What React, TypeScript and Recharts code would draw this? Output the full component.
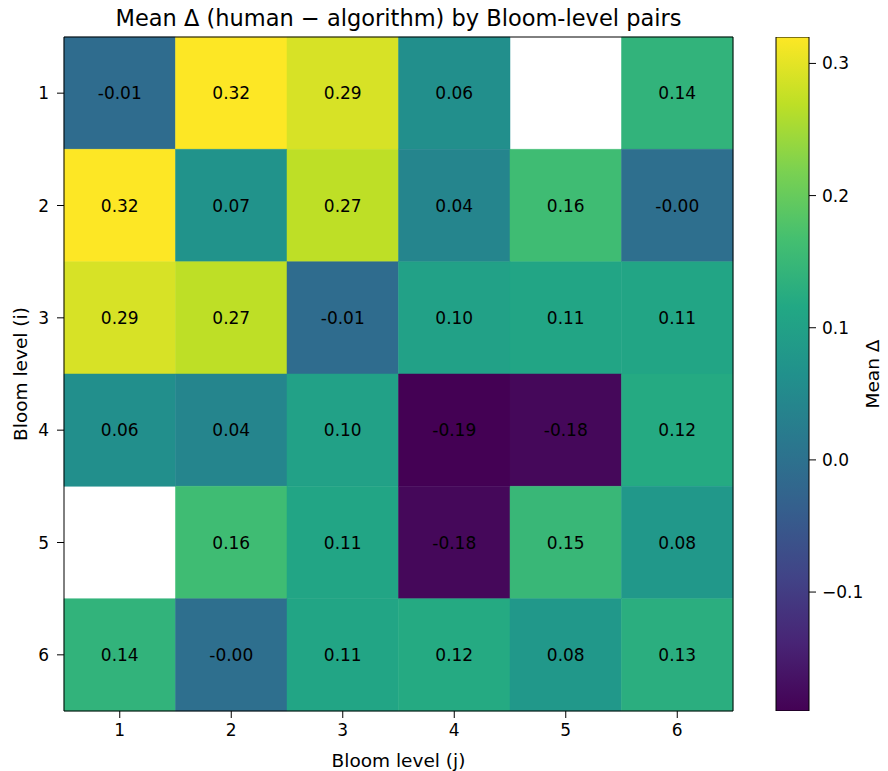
import React from "react";
import {
    ScatterChart,
    Scatter,
    XAxis,
    YAxis,
    ReferenceArea,
    BarChart,
    Bar,
} from "recharts";

// Bloom levels on both axes
const levels = [1, 2, 3, 4, 5, 6];

// mean delta per (i, j) pair, rows = level i, columns = level j (null = no data)
const row1 = [-0.01, 0.32, 0.29, 0.06, null, 0.14];
const row2 = [0.32, 0.07, 0.27, 0.04, 0.16, -0.004];
const row3 = [0.29, 0.27, -0.01, 0.1, 0.11, 0.11];
const row4 = [0.06, 0.04, 0.1, -0.19, -0.18, 0.12];
const row5 = [null, 0.16, 0.11, -0.18, 0.15, 0.08];
const row6 = [0.14, -0.004, 0.11, 0.12, 0.08, 0.13];
const meanDelta = [row1, row2, row3, row4, row5, row6];

const colorbarTicks = [-0.1, 0.0, 0.1, 0.2, 0.3];

// viridis colormap anchor colours
const VIRIDIS = [
    "#440154", "#482475", "#414487", "#355f8d", "#2a788e", "#21918c",
    "#22a884", "#44bf70", "#7ad151", "#bddf26", "#fde725",
];

const FONT = "'DejaVu Sans', sans-serif";

const allValues = meanDelta.flat().filter((v): v is number => v !== null);
const vmin = Math.min(...allValues);
const vmax = Math.max(...allValues);

const hexToRgb = (h: string) => [
    parseInt(h.slice(1, 3), 16),
    parseInt(h.slice(3, 5), 16),
    parseInt(h.slice(5, 7), 16),
];

const viridis = (v: number) => {
    const t = Math.max(0, Math.min(1, (v - vmin) / (vmax - vmin)));
    const pos = t * (VIRIDIS.length - 1);
    const i = Math.min(Math.floor(pos), VIRIDIS.length - 2);
    const f = pos - i;
    const a = hexToRgb(VIRIDIS[i]);
    const b = hexToRgb(VIRIDIS[i + 1]);
    const c = a.map((x, k) => Math.round(x + (b[k] - x) * f));
    return `rgb(${c[0]},${c[1]},${c[2]})`;
};

const cells = meanDelta.flatMap((row, ri) =>
    row.map((v, ci) => ({ x: levels[ci], y: levels[ri], v }))
).filter((c) => c.v !== null) as { x: number; y: number; v: number }[];

const colorbarData = [{ name: "cb", range: [vmin, vmax] }];

const CellLabel = (props: any) => {
    const { cx, cy, payload } = props;
    return (
        <text
            x={cx}
            y={cy}
            textAnchor="middle"
            dominantBaseline="central"
            fontSize={17}
            fill="#000"
            fontFamily={FONT}
        >
            {payload.v.toFixed(2)}
        </text>
    );
};

const fmtTick = (v: number) => (v < 0 ? "\u2212" : "") + Math.abs(v).toFixed(1);

const tickStyle = { fill: "#000", fontSize: 17, fontFamily: FONT };

export default function App() {
    return (
        <div
            style={{
                position: "absolute",
                left: 0,
                top: 0,
                width: 888,
                height: 771,
                background: "#fff",
                fontFamily: FONT,
            }}
        >
            <div
                style={{
                    position: "absolute",
                    left: 64,
                    top: 6,
                    width: 669,
                    textAlign: "center",
                    fontSize: 22.5,
                    lineHeight: "24px",
                    color: "#000",
                    whiteSpace: "nowrap",
                }}
            >
                Mean Δ (human − algorithm) by Bloom-level pairs
            </div>
            <div style={{ position: "absolute", left: 0, top: 0 }}>
                <ScatterChart
                    width={760}
                    height={771}
                    margin={{ top: 37, right: 27, bottom: 0, left: 0 }}
                >
                    <XAxis
                        type="number"
                        dataKey="x"
                        domain={[0.5, 6.5]}
                        ticks={levels}
                        allowDataOverflow
                        height={60}
                        axisLine={false}
                        tickSize={7}
                        tickMargin={6}
                        tickLine={{ stroke: "#000" }}
                        tick={tickStyle}
                        label={{
                            value: "Bloom level (j)",
                            position: "insideBottom",
                            offset: 4,
                            fill: "#000",
                            fontSize: 18.5,
                        }}
                    />
                    <YAxis
                        type="number"
                        dataKey="y"
                        domain={[0.5, 6.5]}
                        ticks={levels}
                        reversed
                        allowDataOverflow
                        width={64}
                        axisLine={false}
                        tickSize={7}
                        tickMargin={8}
                        tickLine={{ stroke: "#000" }}
                        tick={tickStyle}
                        label={{
                            value: "Bloom level (i)",
                            position: "insideLeft",
                            angle: -90,
                            offset: 20,
                            fill: "#000",
                            fontSize: 18.5,
                            style: { textAnchor: "middle" },
                        }}
                    />
                    {cells.map((c) => (
                        <ReferenceArea
                            key={`${c.x}-${c.y}`}
                            x1={c.x - 0.5}
                            x2={c.x + 0.5}
                            y1={c.y - 0.5}
                            y2={c.y + 0.5}
                            fill={viridis(c.v)}
                            fillOpacity={1}
                            stroke={viridis(c.v)}
                            strokeWidth={0.5}
                        />
                    ))}
                    <ReferenceArea
                        x1={0.5}
                        x2={6.5}
                        y1={0.5}
                        y2={6.5}
                        fill="none"
                        stroke="#000"
                        strokeWidth={1}
                    />
                    <Scatter
                        data={cells}
                        shape={CellLabel}
                        isAnimationActive={false}
                    />
                </ScatterChart>
            </div>
            <div style={{ position: "absolute", left: 760, top: 0 }}>
                <BarChart
                    width={128}
                    height={771}
                    data={colorbarData}
                    margin={{ top: 37, right: 0, bottom: 60, left: 16 }}
                    barCategoryGap={0}
                >
                    <defs>
                        <linearGradient id="viridisGrad" x1="0" y1="1" x2="0" y2="0">
                            {VIRIDIS.map((c, i) => (
                                <stop
                                    key={c}
                                    offset={`${(i / (VIRIDIS.length - 1)) * 100}%`}
                                    stopColor={c}
                                />
                            ))}
                        </linearGradient>
                    </defs>
                    <XAxis dataKey="name" hide />
                    <YAxis
                        orientation="right"
                        type="number"
                        domain={[vmin, vmax]}
                        ticks={colorbarTicks}
                        allowDataOverflow
                        width={79}
                        axisLine={false}
                        tickSize={7}
                        tickMargin={6}
                        tickLine={{ stroke: "#000" }}
                        tick={tickStyle}
                        tickFormatter={fmtTick}
                        label={{
                            value: "Mean Δ",
                            position: "insideRight",
                            angle: -90,
                            offset: 16,
                            fill: "#000",
                            fontSize: 18.5,
                            style: { textAnchor: "middle" },
                        }}
                    />
                    <Bar
                        dataKey="range"
                        fill="url(#viridisGrad)"
                        stroke="#000"
                        strokeWidth={1}
                        isAnimationActive={false}
                    />
                </BarChart>
            </div>
        </div>
    );
}
